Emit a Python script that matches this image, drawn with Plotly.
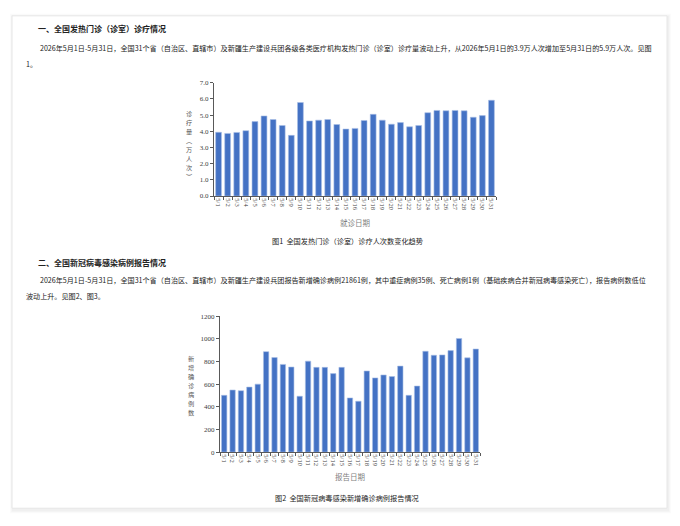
import plotly.graph_objects as go

W, H = 680, 526

dates = ["5/1", "5/2", "5/3", "5/4", "5/5", "5/6", "5/7", "5/8", "5/9", "5/10",
         "5/11", "5/12", "5/13", "5/14", "5/15", "5/16", "5/17", "5/18", "5/19", "5/20",
         "5/21", "5/22", "5/23", "5/24", "5/25", "5/26", "5/27", "5/28", "5/29", "5/30", "5/31"]

visits = [3.94, 3.87, 3.93, 4.04, 4.60, 4.95, 4.73, 4.36, 3.75, 5.78,
          4.64, 4.69, 4.73, 4.42, 4.14, 4.18, 4.67, 5.05, 4.69, 4.44,
          4.54, 4.28, 4.36, 5.15, 5.29, 5.27, 5.29, 5.27, 4.87, 4.97, 5.92]

cases = [501, 548, 542, 574, 600, 887, 835, 774, 751, 493,
         803, 748, 748, 693, 748, 478, 449, 716, 655, 681,
         667, 759, 501, 583, 890, 855, 858, 896, 1003, 832, 910]

heading1 = "一、全国发热门诊（诊室）诊疗情况"
para1 = ["2026年5月1日-5月31日，全国31个省（自治区、直辖市）及新疆生产建设兵团各级各类医疗机构发热门诊（诊室）诊疗量波动上升，从2026年5月1日的3.9万人次增加至5月31日的5.9万人次。见图",
         "1。"]
ytitle1 = "诊疗量︵万人次︶"
xtitle1 = "就诊日期"
caption1 = "图1  全国发热门诊（诊室）诊疗人次数变化趋势"

heading2 = "二、全国新冠病毒感染病例报告情况"
para2 = ["2026年5月1日-5月31日，全国31个省（自治区、直辖市）及新疆生产建设兵团报告新增确诊病例21861例，其中重症病例35例、死亡病例1例（基础疾病合并新冠病毒感染死亡），报告病例数低位",
         "波动上升。见图2、图3。"]
ytitle2 = "新增确诊病例数"
xtitle2 = "报告日期"
caption2 = "图2  全国新冠病毒感染新增确诊病例报告情况"

CJK = "Noto Sans CJK SC"
SERIF = "Liberation Serif"
BAR = "#4472c4"
AX = "#595959"

def px(x):
    return x / W

def py(y):
    return 1 - y / H

fig = go.Figure()
fig.add_trace(go.Bar(x=dates, y=visits, xaxis="x", yaxis="y",
                     marker=dict(color=BAR, line=dict(color="#a9bfe6", width=0.6))))
fig.add_trace(go.Bar(x=dates, y=cases, xaxis="x2", yaxis="y2",
                     marker=dict(color=BAR, line=dict(color="#a9bfe6", width=0.6))))

xcommon = dict(type="category", showline=True, linecolor=AX, linewidth=1,
               ticks="outside", ticklen=3, tickcolor=AX, tickson="boundaries",
               tickangle=90, tickfont=dict(family=SERIF, size=6.5, color="#404040"),
               showgrid=False, zeroline=False, fixedrange=True)
ycommon = dict(showline=True, linecolor=AX, linewidth=1, ticks="outside", ticklen=3,
               tickcolor=AX, tickfont=dict(family=SERIF, size=7, color="#404040"),
               showgrid=False, zeroline=False, fixedrange=True)

fig.update_layout(
    width=W, height=H, margin=dict(l=0, r=0, t=0, b=0),
    paper_bgcolor="white", plot_bgcolor="rgba(0,0,0,0)",
    showlegend=False, bargap=0.36,
    xaxis=dict(domain=[px(214), px(496)], anchor="y", **xcommon),
    yaxis=dict(domain=[py(195), py(80)], anchor="x", range=[0, 7], dtick=1,
               tickformat=".1f", **ycommon),
    xaxis2=dict(domain=[px(220), px(480)], anchor="y2", **xcommon),
    yaxis2=dict(domain=[py(455), py(317)], anchor="x2", range=[0, 1200], dtick=200,
                **ycommon),
)

shapes = []
# card shadow
for i, c in enumerate(["#fbfbfb", "#f6f6f6", "#f0f0f0"]):
    d = 3 - i
    shapes.append(dict(type="rect", xref="paper", yref="paper",
                       x0=px(12 - d + 1), x1=px(668 + d), y0=py(513 + d + 1), y1=py(12 - d + 1),
                       fillcolor=c, line=dict(width=0), layer="below"))
shapes.append(dict(type="rect", xref="paper", yref="paper",
                   x0=px(12), x1=px(667), y0=py(512), y1=py(12),
                   fillcolor="white", line=dict(color="#e6e6e6", width=1), layer="below"))
fig.update_layout(shapes=shapes)

ann = []

def text(x, y, s, size, color="#222222", bold=False, xanchor="left", family=CJK):
    ann.append(dict(xref="paper", yref="paper", x=px(x), y=py(y), text=("<b>%s</b>" % s) if bold else s,
                    showarrow=False, xanchor=xanchor, yanchor="middle", borderpad=0,
                    font=dict(family=family, size=size, color=color)))

text(37, 25, heading1, 8, bold=True)
text(39, 45, para1[0], 7.1)
text(25, 61, para1[1], 7.1)
text(37, 262, heading2, 8, bold=True)
text(39, 280, para2[0], 7.1)
text(25, 297, para2[1], 7.1)

text(355, 222, xtitle1, 7.5, color="#7f7f7f", xanchor="center")
text(347, 241, caption1, 7.2, xanchor="center")
text(350, 480, xtitle2, 7.5, color="#7f7f7f", xanchor="center")
text(347, 502, caption2, 7.2, xanchor="center")

# vertical stacked y titles: one upright character per line
STEP = 9.2
for i, ch in enumerate(ytitle1):
    text(189, 111 + i * STEP, ch, 6.2, color="#595959", xanchor="center")
for i, ch in enumerate(ytitle2):
    text(191, 360 + i * STEP, ch, 6.2, color="#595959", xanchor="center")

fig.update_layout(annotations=ann)
fig.write_html("out.html")
